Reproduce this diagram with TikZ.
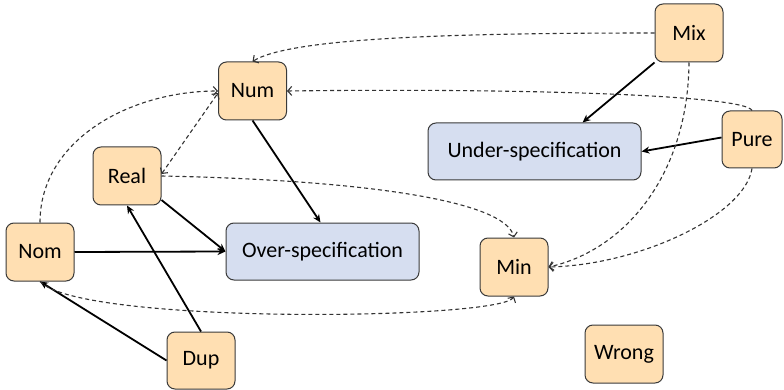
\documentclass[tikz,border=0pt]{standalone}
\usepackage{fontspec}
\setmainfont{Carlito}
\usetikzlibrary{arrows.meta}
\definecolor{boxorange}{HTML}{FFDFB2}
\definecolor{boxblue}{HTML}{D6DEF0}
\definecolor{boxline}{HTML}{3A3A3A}
\definecolor{dashcol}{HTML}{333333}
\tikzset{
  cat/.style={draw=boxline, line width=1pt, rounded corners=8pt, fill=boxorange,
    minimum width=68pt, minimum height=58pt, inner sep=0pt,
    font=\fontsize{22}{25}\selectfont, text=black},
  spec/.style={cat, fill=boxblue},
  solidarrow/.style={line width=1.8pt, black, -{Stealth[length=8pt,width=7pt]}},
  dasharrow/.style={line width=1.1pt, dashcol, dash pattern=on 4pt off 3pt,
    -{Straight Barb[length=4pt,width=9pt]}}
}
\begin{document}
\begin{tikzpicture}[x=1pt,y=-1pt]
\useasboundingbox (0,0) rectangle (784,390);
% nodes
\node[cat] (Num) at (252.5,91) {Num};
\node[cat] (Real) at (127,176) {Real};
\node[cat] (Nom) at (40,252) {Nom};
\node[cat, minimum height=57pt] (Dup) at (201,360.5) {Dup};
\node[spec, minimum width=193pt, minimum height=57pt] (Over) at (322.5,251.5) {Over-specification};
\node[cat] (Mix) at (689,33) {Mix};
\node[spec, minimum width=213pt, minimum height=57pt] (Under) at (534.5,151.5) {Under-specification};
\node[cat, minimum width=60pt, minimum height=57pt] (Pure) at (752,139.5) {Pure};
\node[cat] (Min) at (514,267) {Min};
\node[cat, minimum width=78pt] (Wrong) at (624,354) {Wrong};
% solid connectors
\draw[solidarrow] (Num.south) -- ([xshift=-2pt]Over.north);
\draw[solidarrow] ([yshift=-24pt]Real.east) -- (Over.west);
\draw[solidarrow] (Nom.east) -- (Over.west);
\draw[solidarrow] (Dup.north) -- (Real.south);
\draw[solidarrow] (Dup.west) -- (Nom.south);
\draw[solidarrow] (Mix.south west) -- ([xshift=48pt]Under.north);
\draw[solidarrow] ([yshift=2pt]Pure.west) -- (Under.east);
% dashed connectors
\draw[dasharrow] (Mix.west) .. controls (450,33) and (290,38) .. (Num.north);
\draw[dasharrow] (Pure.north) .. controls (745,95) and (520,88) .. (Num.east);
\draw[dasharrow] (Nom.north) .. controls (40,140) and (130,91) .. (Num.west);
\draw[dasharrow, {Straight Barb[length=4pt,width=9pt]}-{Straight Barb[length=4pt,width=9pt]}] ([yshift=2pt]Real.east) -- ([yshift=-2pt]Num.west);
\draw[dasharrow] (Real.east) .. controls (360,180) and (505,200) .. (Min.north);
\draw[dasharrow] (Nom.south) .. controls (80,325) and (500,320) .. (Min.south);
\draw[dasharrow] (Mix.south) .. controls (688,175) and (625,250) .. (Min.east);
\draw[dasharrow] (Pure.south) .. controls (745,215) and (640,265) .. (Min.east);
\end{tikzpicture}
\end{document}
